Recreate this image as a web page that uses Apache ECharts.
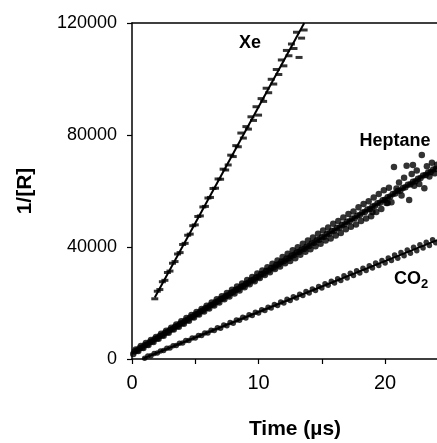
<!DOCTYPE html>
<html>
<head>
<meta charset="utf-8">
<script src="https://cdn.jsdelivr.net/npm/echarts@6/dist/echarts.min.js"></script>
<style>
html,body{margin:0;padding:0;background:#fff;}
#chart{width:437px;height:443px;}
</style>
</head>
<body>
<div id="chart"></div>
<script>
// ---- data ----
var xeTime = [1.8,2.0,2.2,2.4,2.6,2.8,3.0,3.2,3.4,3.6,3.8,4.0,4.2,4.4,4.6,4.8,5.0,5.2,5.4,5.6,5.8,6.0,6.2,6.4,6.6,6.8,7.0,7.2,7.4,7.6,7.8,8.0,8.2,8.4,8.6,8.8,9.0,9.2,9.4,9.6,9.8,10.0,10.2,10.4,10.6,10.8,11.0,11.2,11.4,11.6,11.8,12.0,12.2,12.4,12.6,12.8,13.0,13.2,13.4,13.6];
var xeValue = [21500,24200,24800,27600,28100,30900,31400,34200,34800,37500,38000,40900,41300,44200,44600,47600,47900,50900,51100,54300,54500,57500,57700,60900,61000,64300,64200,67800,67500,69300,72800,72300,76200,75800,80700,78900,83000,82100,86500,85200,90100,87100,93000,92000,96700,95100,99900,98200,103400,101600,106800,104700,110200,108300,112500,110900,116700,107700,114600,117500];

var heptaneTime = [0.1,0.3,0.5,0.7,0.9,1.1,1.3,1.5,1.7,1.9,2.1,2.3,2.5,2.7,2.9,3.1,3.3,3.5,3.7,3.9,4.1,4.3,4.5,4.7,4.9,5.1,5.3,5.5,5.7,5.9,6.1,6.3,6.5,6.7,6.9,7.1,7.3,7.5,7.7,7.9,8.1,8.3,8.5,8.7,8.9,9.1,9.3,9.5,9.7,9.9,10.1,10.3,10.5,10.7,10.9,11.1,11.3,11.5,11.7,11.9,12.1,12.3,12.5,12.7,12.9,13.1,13.3,13.5,13.7,13.9,14.1,14.3,14.5,14.7,14.9,15.1,15.3,15.5,15.7,15.9,16.1,16.3,16.5,16.7,16.9,17.1,17.3,17.5,17.7,17.9,18.1,18.3,18.5,18.7,18.9,19.1,19.3,19.5,19.7,19.9,20.1,20.3,20.5,20.7,20.9,21.1,21.3,21.5,21.7,21.9,22.1,22.3,22.5,22.7,22.9,23.1,23.3,23.5,23.7,23.9,24.1,22.2,19.0,20.2];
var heptaneValue = [1800,3400,2900,4600,3900,5700,5000,6800,6100,7900,7200,9000,8300,10100,9400,11200,10500,12300,11500,13500,12600,14600,13700,15700,14800,16800,15900,17900,17000,19000,18000,20200,19100,21300,20200,22400,21300,23600,22300,24700,23400,25900,24500,27000,25600,28200,26700,29300,27800,30500,28900,31600,30000,32800,31000,34000,32100,35200,33000,36400,34200,37600,35000,38800,36000,39900,37200,41200,38300,42300,39200,43400,40300,44700,41200,45900,42300,47000,43000,48300,44100,49300,45000,50500,46300,51800,47200,52700,48000,54200,49300,55400,50200,56300,51000,57700,52500,58900,53600,60300,55700,61200,56000,68600,60900,63000,58400,64700,69000,56800,66100,61900,67300,62500,72900,61000,68800,65200,70100,66300,69400,69300,52500,55700];

var heptaneRun2Time = [0.2,0.4,0.6,0.8,1.0,1.2,1.4,1.6,1.8,2.0,2.2,2.4,2.6,2.8,3.0,3.2,3.4,3.6,3.8,4.0,4.2,4.4,4.6,4.8,5.0,5.2,5.4,5.6,5.8,6.0,6.2,6.4,6.6,6.8,7.0,7.2,7.4,7.6,7.8,8.0,8.2,8.4,8.6,8.8,9.0,9.2,9.4,9.6,9.8,10.0,10.2,10.4,10.6,10.8,11.0,11.2,11.4,11.6,11.8,12.0,12.2,12.4,12.6,12.8,13.0,13.2,13.4,13.6,13.8,14.0,14.2,14.4,14.6,14.8,15.0,15.2,15.4,15.6,15.8,16.0,16.2,16.4,16.6,16.8,17.0,17.2,17.4,17.6,17.8,18.0,18.2,18.4,18.6,18.8,19.0,19.2,19.4,19.6,19.8,20.0,20.2,20.4,20.6,20.8,21.0,21.2,21.4,21.6,21.8,22.0,22.2,22.4,22.6,22.8,23.0,23.2,23.4,23.6,23.8,24.0];
var heptaneRun2Value = [2700,3000,3800,4100,4900,5200,6000,6300,7100,7400,8200,8500,9300,9600,10400,10700,11500,11800,12600,12900,13700,14000,14800,15100,15900,16200,17000,17300,18100,18400,19200,19500,20300,20600,21400,21700,22500,22800,23600,23900,24700,25000,25800,26100,26900,27200,28000,28300,29100,29400,30300,30500,31400,31600,32500,32700,33600,33800,34700,34900,35800,36000,36900,37100,38000,38200,39100,39300,40200,40400,41300,41500,42400,42600,43500,43700,44600,44800,45700,45900,46800,47000,47900,48100,49000,49200,50100,50300,51200,51400,52300,52500,53400,53600,54500,54700,55600,55800,56700,56900,57800,58000,58900,59100,60000,60200,61100,61300,62200,62400,63300,63500,64400,64600,65500,65700,66600,66800,67700,67900];

var co2Time = [1.0,1.25,1.5,1.75,2.0,2.25,2.5,2.75,3.0,3.25,3.5,3.75,4.0,4.25,4.5,4.75,5.0,5.25,5.5,5.75,6.0,6.25,6.5,6.75,7.0,7.25,7.5,7.75,8.0,8.25,8.5,8.75,9.0,9.25,9.5,9.75,10.0,10.25,10.5,10.75,11.0,11.25,11.5,11.75,12.0,12.25,12.5,12.75,13.0,13.25,13.5,13.75,14.0,14.25,14.5,14.75,15.0,15.25,15.5,15.75,16.0,16.25,16.5,16.75,17.0,17.25,17.5,17.75,18.0,18.25,18.5,18.75,19.0,19.25,19.5,19.75,20.0,20.25,20.5,20.75,21.0,21.25,21.5,21.75,22.0,22.25,22.5,22.75,23.0,23.25,23.5,23.75,24.0];
var co2Value = [300,1100,1200,2000,2100,2900,3000,3800,3900,4700,4800,5600,5700,6600,6600,7500,7500,8400,8400,9300,9300,10300,10200,11200,11000,12100,11900,13000,12800,13900,13800,14900,14600,15800,15500,16700,16400,17600,17300,18500,18200,19500,19100,20400,20000,21300,20900,22200,21800,23100,22700,24100,23600,25000,24500,25900,25400,26900,26300,27800,27100,28700,28000,29700,28900,30600,29800,31500,30700,32400,31600,33300,32500,34300,33400,35200,34300,36100,35200,37100,36000,38000,36900,38900,37800,39900,38700,40800,39600,41700,40500,42600,41500];

// fitted straight lines: [start time, end time], [start value, end value]
var xeFitTime = [1.8, 13.61];
var xeFitValue = [22000, 120000];
var heptaneFitTime = [0, 24.1];
var heptaneFitValue = [2000, 68300];
var co2FitTime = [0.9, 24.1];
var co2FitValue = [200, 42460];

var xTickLabels = [0, 10, 20];
var xTicks = [0, 5, 10, 15, 20];
var yTickLabels = [0, 40000, 80000, 120000];

function pairs(t, v) { return t.map(function (x, i) { return [x, v[i]]; }); }

var FONT = "'Liberation Sans', Arial, sans-serif";
var chart = echarts.init(document.getElementById('chart'), null, {renderer: 'canvas'});

chart.setOption({
  animation: false,
  backgroundColor: '#fff',
  grid: {left: 132, top: 23, width: 305, height: 336, containLabel: false},
  xAxis: [{
    type: 'value', min: 0, max: 24.1, position: 'bottom',
    axisLine: {show: true, onZero: false, lineStyle: {color: '#000', width: 1.5}},
    axisTick: {show: true, inside: false, length: 5, customValues: xTicks, lineStyle: {color: '#000', width: 1.2}},
    axisLabel: {show: true, customValues: xTickLabels, margin: 14, color: '#000', fontSize: 20, fontFamily: FONT},
    splitLine: {show: false}
  }, {
    type: 'value', min: 0, max: 24.1, position: 'top',
    axisLine: {show: true, onZero: false, lineStyle: {color: '#000', width: 1.5}},
    axisTick: {show: false}, axisLabel: {show: false}, splitLine: {show: false}
  }],
  yAxis: {
    type: 'value', min: 0, max: 120000, interval: 40000,
    axisLine: {show: true, onZero: false, lineStyle: {color: '#000', width: 1.5}},
    axisTick: {show: true, inside: false, length: 5, customValues: yTickLabels, lineStyle: {color: '#000', width: 1.2}},
    axisLabel: {show: true, customValues: yTickLabels, margin: 15, color: '#000', fontSize: 18, fontFamily: FONT,
      formatter: function (v) { return String(v); }},
    splitLine: {show: false}
  },
  graphic: [
    {type: 'text', x: 25, y: 191, rotation: Math.PI / 2,
      style: {text: '1/[R]', font: 'bold 21px ' + FONT, fill: '#000', align: 'center', verticalAlign: 'middle'}},
    {type: 'text', x: 295, y: 429,
      style: {text: 'Time (\u00b5s)', font: 'bold 21px ' + FONT, fill: '#000', align: 'center', verticalAlign: 'middle'}},
    {type: 'text', x: 250, y: 43,
      style: {text: 'Xe', font: 'bold 18px ' + FONT, fill: '#000', align: 'center', verticalAlign: 'middle'}},
    {type: 'text', x: 395, y: 141,
      style: {text: 'Heptane', font: 'bold 18px ' + FONT, fill: '#000', align: 'center', verticalAlign: 'middle'}},
    {type: 'text', x: 394, y: 270,
      style: {
        text: '{a|CO}{b|2}',
        rich: {
          a: {font: 'bold 18px ' + FONT, fill: '#000', verticalAlign: 'top', lineHeight: 20},
          b: {font: 'bold 13px ' + FONT, fill: '#000', verticalAlign: 'top', lineHeight: 20, padding: [8, 0, 0, 0]}
        },
        align: 'left', verticalAlign: 'top'
      }}
  ],
  series: [
    {type: 'scatter', data: pairs(xeTime, xeValue), symbol: 'rect', symbolSize: [7, 3],
      itemStyle: {color: '#000'}, silent: true},
    {type: 'scatter', data: pairs(heptaneTime, heptaneValue), symbol: 'circle', symbolSize: 6.5,
      itemStyle: {color: '#000'}, silent: true},
    {type: 'scatter', data: pairs(heptaneRun2Time, heptaneRun2Value), symbol: 'circle', symbolSize: 6.5,
      itemStyle: {color: '#000'}, silent: true},
    {type: 'scatter', data: pairs(co2Time, co2Value), symbol: 'circle', symbolSize: 5.5,
      itemStyle: {color: '#000'}, silent: true},
    {type: 'line', data: pairs(xeFitTime, xeFitValue), showSymbol: false, symbol: 'none',
      lineStyle: {color: '#000', width: 2}, silent: true},
    {type: 'line', data: pairs(heptaneFitTime, heptaneFitValue), showSymbol: false, symbol: 'none',
      lineStyle: {color: '#000', width: 2}, silent: true},
    {type: 'line', data: pairs(co2FitTime, co2FitValue), showSymbol: false, symbol: 'none',
      lineStyle: {color: '#000', width: 2}, silent: true}
  ]
});
</script>
</body>
</html>
